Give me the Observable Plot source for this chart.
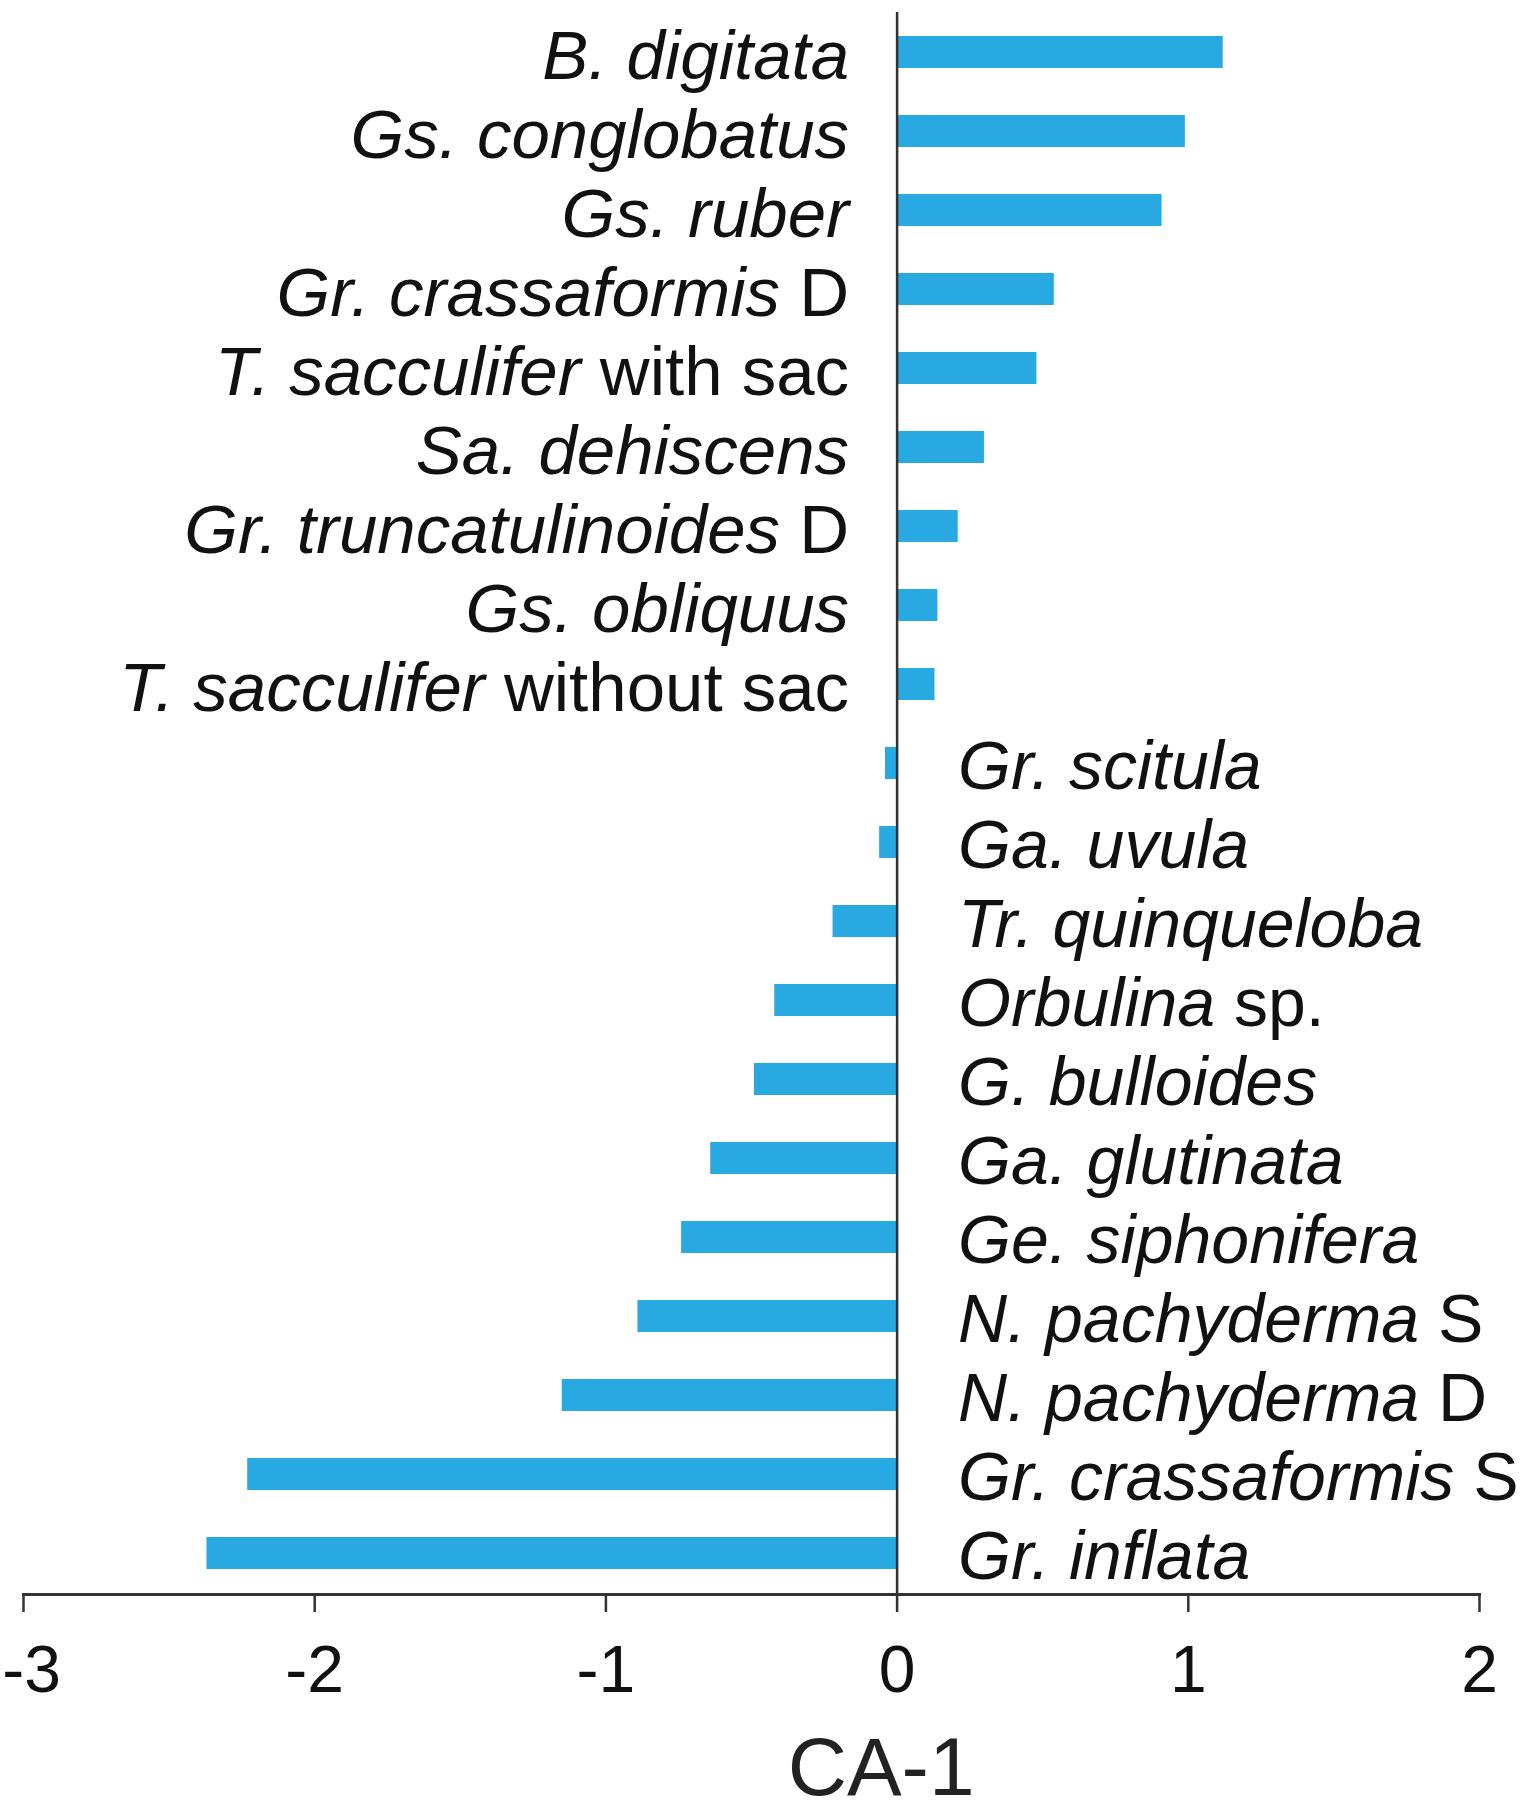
<!DOCTYPE html>
<html>
<head>
<meta charset="utf-8">
<script src="https://cdn.jsdelivr.net/npm/d3@7"></script>
<script src="https://cdn.jsdelivr.net/npm/@observablehq/plot@0.6"></script>
<style>
  html, body { margin: 0; padding: 0; background: #fff; }
  #chart svg { display: block; }
</style>
</head>
<body>
<div id="chart"></div>
<script>
// Italic taxon names
const taxa = [
  "B. digitata", "Gs. conglobatus", "Gs. ruber", "Gr. crassaformis",
  "T. sacculifer", "Sa. dehiscens", "Gr. truncatulinoides", "Gs. obliquus",
  "T. sacculifer", "Gr. scitula", "Ga. uvula", "Tr. quinqueloba",
  "Orbulina", "G. bulloides", "Ga. glutinata", "Ge. siphonifera",
  "N. pachyderma", "N. pachyderma", "Gr. crassaformis", "Gr. inflata"
];
// Roman (non-italic) qualifiers
const qualifiers = [
  "", "", "", "D",
  "with sac", "", "D", "",
  "without sac", "", "", "",
  "sp.", "", "", "",
  "S", "D", "S", ""
];
// CA-1 scores
const ca1 = [
  1.12, 0.99, 0.91, 0.54,
  0.48, 0.30, 0.21, 0.14,
  0.13, -0.04, -0.06, -0.22,
  -0.42, -0.49, -0.64, -0.74,
  -0.89, -1.15, -2.23, -2.37
];
const xTicks = [-3, -2, -1, 0, 1, 2];

const data = taxa.map((t, i) => ({
  italic: t,
  roman: qualifiers[i],
  label: qualifiers[i] ? t + " " + qualifiers[i] : t,
  value: ca1[i]
}));
const partsByLabel = new Map(data.map(d => [d.label, d]));

const FONT = "'Liberation Sans', Arial, Helvetica, sans-serif";

const chart = Plot.plot({
  width: 1539,
  height: 1810,
  marginTop: 12,
  marginBottom: 216,
  marginLeft: 23,
  marginRight: 60,
  style: { fontFamily: FONT, background: "#fff", color: "#111" },
  x: { domain: [-3, 2], ticks: xTicks },
  y: { domain: data.map(d => d.label), paddingInner: 0.59, paddingOuter: 0.3, axis: null },
  marks: [
    Plot.barX(data, { x: "value", y: "label", fill: "#29a9e1" }),
    Plot.ruleX([0], { stroke: "#333", strokeWidth: 2.5 }),
    Plot.frame({ anchor: "bottom", stroke: "#333", strokeWidth: 3 }),
    Plot.axisX({
      ticks: xTicks,
      tickSize: 18,
      tickPadding: 33,
      fontSize: 66,
      stroke: "#333",
      strokeWidth: 2.5,
      label: null,
      tickFormat: d => String(d)
    }),
    Plot.text(data.filter(d => d.value >= 0), {
      x: () => 0, y: "label", text: "label",
      textAnchor: "end", dx: -48, dy: 4, fontSize: 69, fill: "#111"
    }),
    Plot.text(data.filter(d => d.value < 0), {
      x: () => 0, y: "label", text: "label",
      textAnchor: "start", dx: 61, dy: 4, fontSize: 68, fill: "#111"
    }),
    Plot.text(["CA-1"], {
      x: () => 0, frameAnchor: "bottom", text: d => d,
      dy: 200, dx: -16, fontSize: 82, fill: "#222"
    })
  ]
});

// Render the italic genus/species part and the roman qualifier in one text
d3.select(chart).selectAll("g[aria-label='text'] text").each(function () {
  const el = d3.select(this);
  const p = partsByLabel.get(this.textContent);
  if (!p) return;
  el.text(null);
  el.append("tspan").attr("font-style", "italic").text(p.italic);
  if (p.roman) el.append("tspan").attr("font-style", "normal").text(" " + p.roman);
});

// Keep the leftmost tick label inside the picture, as in the reference
d3.select(chart).selectAll("g[aria-label='x-axis tick label'] text").each(function () {
  if (this.textContent === "-3") {
    const prev = +(this.getAttribute("dx") || 0);
    this.setAttribute("dx", prev + 8);
  }
});

document.getElementById("chart").append(chart);
</script>
</body>
</html>
